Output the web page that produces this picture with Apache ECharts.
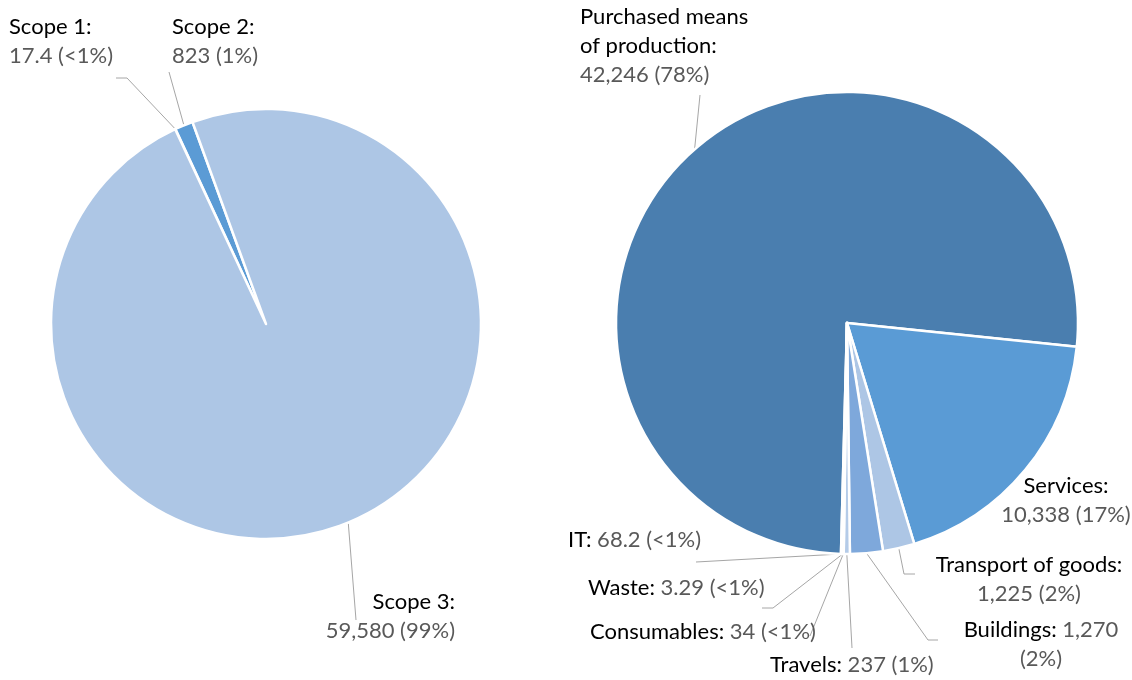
<!DOCTYPE html>
<html>
<head>
<meta charset="utf-8">
<script src="https://cdn.jsdelivr.net/npm/echarts@6/dist/echarts.min.js"></script>
<style>
html,body{margin:0;padding:0;background:#fff;}
#chart{width:1132px;height:680px;}
</style>
</head>
<body>
<div id="chart"></div>
<script>
// ---- data ----
const leftNames = ['Scope 1', 'Scope 2', 'Scope 3'];
const leftValues = [17.4, 823, 59580];
const leftPct = ['<1%', '1%', '99%'];

const rightNames = ['Purchased means of production', 'Services', 'Transport of goods', 'Buildings', 'Travels', 'Consumables', 'Waste', 'IT'];
const rightValues = [42246, 10338, 1225, 1270, 237, 34, 3.29, 68.2];
const rightPct = ['78%', '17%', '2%', '2%', '1%', '<1%', '<1%', '<1%'];

// ---- style / layout ----
const leftColors = ['#4a7eaf', '#5b9bd5', '#adc6e5'];
const rightColors = ['#4a7eaf', '#5a9bd5', '#adc6e5', '#7ea8db', '#b4cbe8', '#8fb0dc', '#8fb0dc', '#a3bfe3'];

const leftLabels = [
  {x: 9,   y: 12,  align: 'left',  form: 'stack', line: [[127, 78], [116, 78]]},
  {x: 172, y: 12,  align: 'left',  form: 'stack', line: [[169, 72]]},
  {x: 455, y: 587, align: 'right', form: 'stack', line: [[356, 620]]}
];
const rightLabels = [
  {x: 580,  y: 2,   align: 'left',   form: 'stack', wrap: 16, line: [[700, 95]]},
  {x: 1066, y: 471, align: 'center', form: 'stack', line: null},
  {x: 1029, y: 550, align: 'center', form: 'stack', line: [[904, 574], [915, 574]]},
  {x: 1041, y: 615, align: 'center', form: 'split', line: [[928, 640], [938, 640]]},
  {x: 770,  y: 650, align: 'left',   form: 'inline', line: [[852, 648]]},
  {x: 590,  y: 617, align: 'left',   form: 'inline', line: [[810, 636]]},
  {x: 588,  y: 573, align: 'left',   form: 'inline', line: [[773, 608], [762, 608]]},
  {x: 568,  y: 525, align: 'left',   form: 'inline', line: [[696, 562]]}
];

const FONT = 'Lato';
const FS = 22;
const LH = 29;

function wrapName(name, wrap) {
  if (!wrap) return [name];
  const words = name.split(' ');
  const lines = [];
  let cur = '';
  words.forEach(w => {
    if (cur && (cur + ' ' + w).length > wrap) { lines.push(cur); cur = w; }
    else cur = cur ? cur + ' ' + w : w;
  });
  if (cur) lines.push(cur);
  return lines;
}

function buildLabel(name, value, pct, cfg) {
  const v = value.toLocaleString('en-US');
  const nameLines = wrapName(name, cfg.wrap);
  const nm = nameLines.map((l, i) => '{n|' + l + (i === nameLines.length - 1 ? ':' : '') + '}');
  if (cfg.form === 'stack') {
    return nm.join('\n') + '\n{v|' + v + ' (' + pct + ')}';
  } else if (cfg.form === 'split') {
    return nm.join('\n') + '{v| ' + v + '}\n{v|(' + pct + ')}';
  }
  return nm.join('\n') + '{v| ' + v + ' (' + pct + ')}';
}

function makeData(names, values, pcts, colors, cfgs) {
  return names.map((n, i) => ({
    name: n,
    value: values[i],
    itemStyle: {color: colors[i]},
    label: {formatter: buildLabel(n, values[i], pcts[i], cfgs[i]), align: cfgs[i].align},
    labelLine: {show: !!cfgs[i].line}
  }));
}

function layoutFn(cfgs) {
  return function (params) {
    const c = cfgs[params.dataIndex];
    const out = {x: c.x, y: c.y, align: c.align, verticalAlign: 'top'};
    if (c.line && params.labelLinePoints && params.labelLinePoints.length) {
      const p0 = params.labelLinePoints[0];
      const pts = [p0].concat(c.line);
      while (pts.length < 3) pts.push(pts[pts.length - 1]);
      out.labelLinePoints = pts;
    }
    return out;
  };
}

const rich = {
  n: {color: '#000000', fontFamily: FONT, fontSize: FS, lineHeight: LH},
  v: {color: '#595959', fontFamily: FONT, fontSize: FS, lineHeight: LH}
};

const baseSeries = {
  type: 'pie',
  clockwise: true,
  avoidLabelOverlap: false,
  animation: false,
  itemStyle: {borderColor: '#ffffff', borderWidth: 2.5},
  label: {show: true, position: 'outside', rich: rich, fontFamily: FONT, fontSize: FS, lineHeight: LH},
  labelLine: {show: true, length: 10, length2: 10, lineStyle: {color: '#a6a6a6', width: 1}},
  emphasis: {disabled: true}
};

const chart = echarts.init(document.getElementById('chart'), null, {renderer: 'canvas'});
chart.setOption({
  backgroundColor: '#ffffff',
  series: [
    Object.assign({}, baseSeries, {
      center: [266, 324],
      radius: 215,
      startAngle: 115,
      data: makeData(leftNames, leftValues, leftPct, leftColors, leftLabels),
      labelLayout: layoutFn(leftLabels)
    }),
    Object.assign({}, baseSeries, {
      center: [847, 323],
      radius: 231,
      startAngle: -91.5,
      data: makeData(rightNames, rightValues, rightPct, rightColors, rightLabels),
      labelLayout: layoutFn(rightLabels)
    })
  ]
});
</script>
</body>
</html>
